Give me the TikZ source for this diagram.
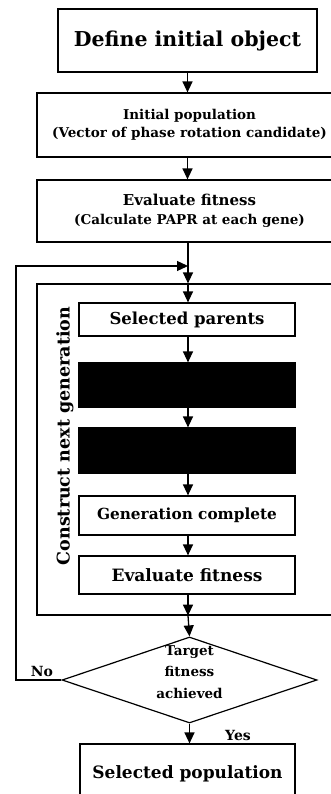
\documentclass[tikz,border=0pt]{standalone}
\usepackage{fontspec}
\setmainfont{DejaVu Serif}
\usetikzlibrary{arrows.meta,shapes.geometric}
\tikzstyle{bx}=[rectangle,draw=black,line width=1.2pt,inner sep=0pt,
  align=center,font=\bfseries]
\tikzstyle{bk}=[rectangle,draw=black,fill=black,line width=1.2pt,
  inner sep=0pt,minimum width=216pt]
\tikzstyle{ar}=[line width=1.3pt,-{Triangle[length=11pt,width=10pt]}]

\begin{document}
\begin{tikzpicture}[x=1pt,y=-1pt]
        \useasboundingbox (0,0) rectangle (330,794);
        \node[style=bx,line width=2pt,minimum width=259pt,minimum height=63pt,
          font=\fontsize{20.5}{24}\selectfont\bfseries] (1) at (187.5,40.5) {Define initial object};
        \node[style=bx,minimum width=305pt,minimum height=64pt,
          font=\fontsize{13.5}{18}\selectfont\bfseries] (2) at (189.5,125)
          {Initial population\\(Vector of phase rotation candidate)};
        \node[style=bx,minimum width=305pt,minimum height=62pt,
          font=\fontsize{13.5}{16}\selectfont\bfseries] (3) at (189.5,211)
          {{\fontsize{15}{18}\selectfont Evaluate fitness}\\[3pt]
           (Calculate PAPR at each gene)};
        \coordinate (join) at (188,266);
        \coordinate (fb) at (16,266);
        \node[style=bx,minimum width=305pt,minimum height=331pt] (loop) at (189.5,449.5) {};
        \node[rotate=90,font=\fontsize{17.5}{20}\selectfont\bfseries] (cng) at (65,436)
          {Construct next generation};
        \node[style=bx,minimum width=216pt,minimum height=33pt,
          font=\fontsize{16.5}{19}\selectfont\bfseries] (4) at (187,319.5) {Selected parents};
        \node[style=bk,minimum height=44pt] (5) at (187,385) {};
        \node[style=bk,minimum height=45pt] (6) at (187,450.5) {};
        \node[style=bx,minimum width=216pt,minimum height=39pt,
          font=\fontsize{15.3}{18}\selectfont\bfseries] (7) at (187,515.5) {Generation complete};
        \node[style=bx,minimum width=216pt,minimum height=38pt,
          font=\fontsize{17}{19}\selectfont\bfseries] (8) at (187,575) {Evaluate fitness};
        \node[diamond,draw=black,line width=1.2pt,inner sep=0pt,
          minimum width=255pt,minimum height=86pt] (9) at (189.5,680) {};
        \node[align=center,font=\fontsize{13.5}{21.5}\selectfont\bfseries] (9t)
          at ([yshift=8pt]9.center) {Target\\fitness\\achieved};
        \node[style=bx,minimum width=215pt,minimum height=60pt,
          font=\fontsize{17}{19}\selectfont\bfseries] (10) at (187.5,774) {Selected population};
        \node[font=\fontsize{14}{16}\selectfont\bfseries] (no) at (42,671) {No};
        \node[font=\fontsize{14}{16}\selectfont\bfseries] (yes) at (238,735) {Yes};
        \draw[style=ar] (1) to (2.north -| 1.south);
        \draw[style=ar] (2.south -| 1.south) to (3.north -| 1.south);
        \draw[line width=1.3pt] (3.south -| join) to (join);
        \draw[style=ar] (join) to (join |- loop.north);
        \draw[style=ar] (join |- loop.north) to (4.north -| join);
        \draw[style=ar] (4.south -| join) to (5.north -| join);
        \draw[style=ar] (5.south -| join) to (6.north -| join);
        \draw[style=ar] (6.south -| join) to (7.north -| join);
        \draw[style=ar] (7.south -| join) to (8.north -| join);
        \draw[style=ar] (8.south -| join) to (loop.south -| join);
        \draw[style=ar] (loop.south -| join) to (9.north);
        \draw[style=ar] (9.south) to (10.north -| 9.south);
        \draw[style=ar] (9.west) -| (fb) to (join);
    \end{tikzpicture}
\end{document}
